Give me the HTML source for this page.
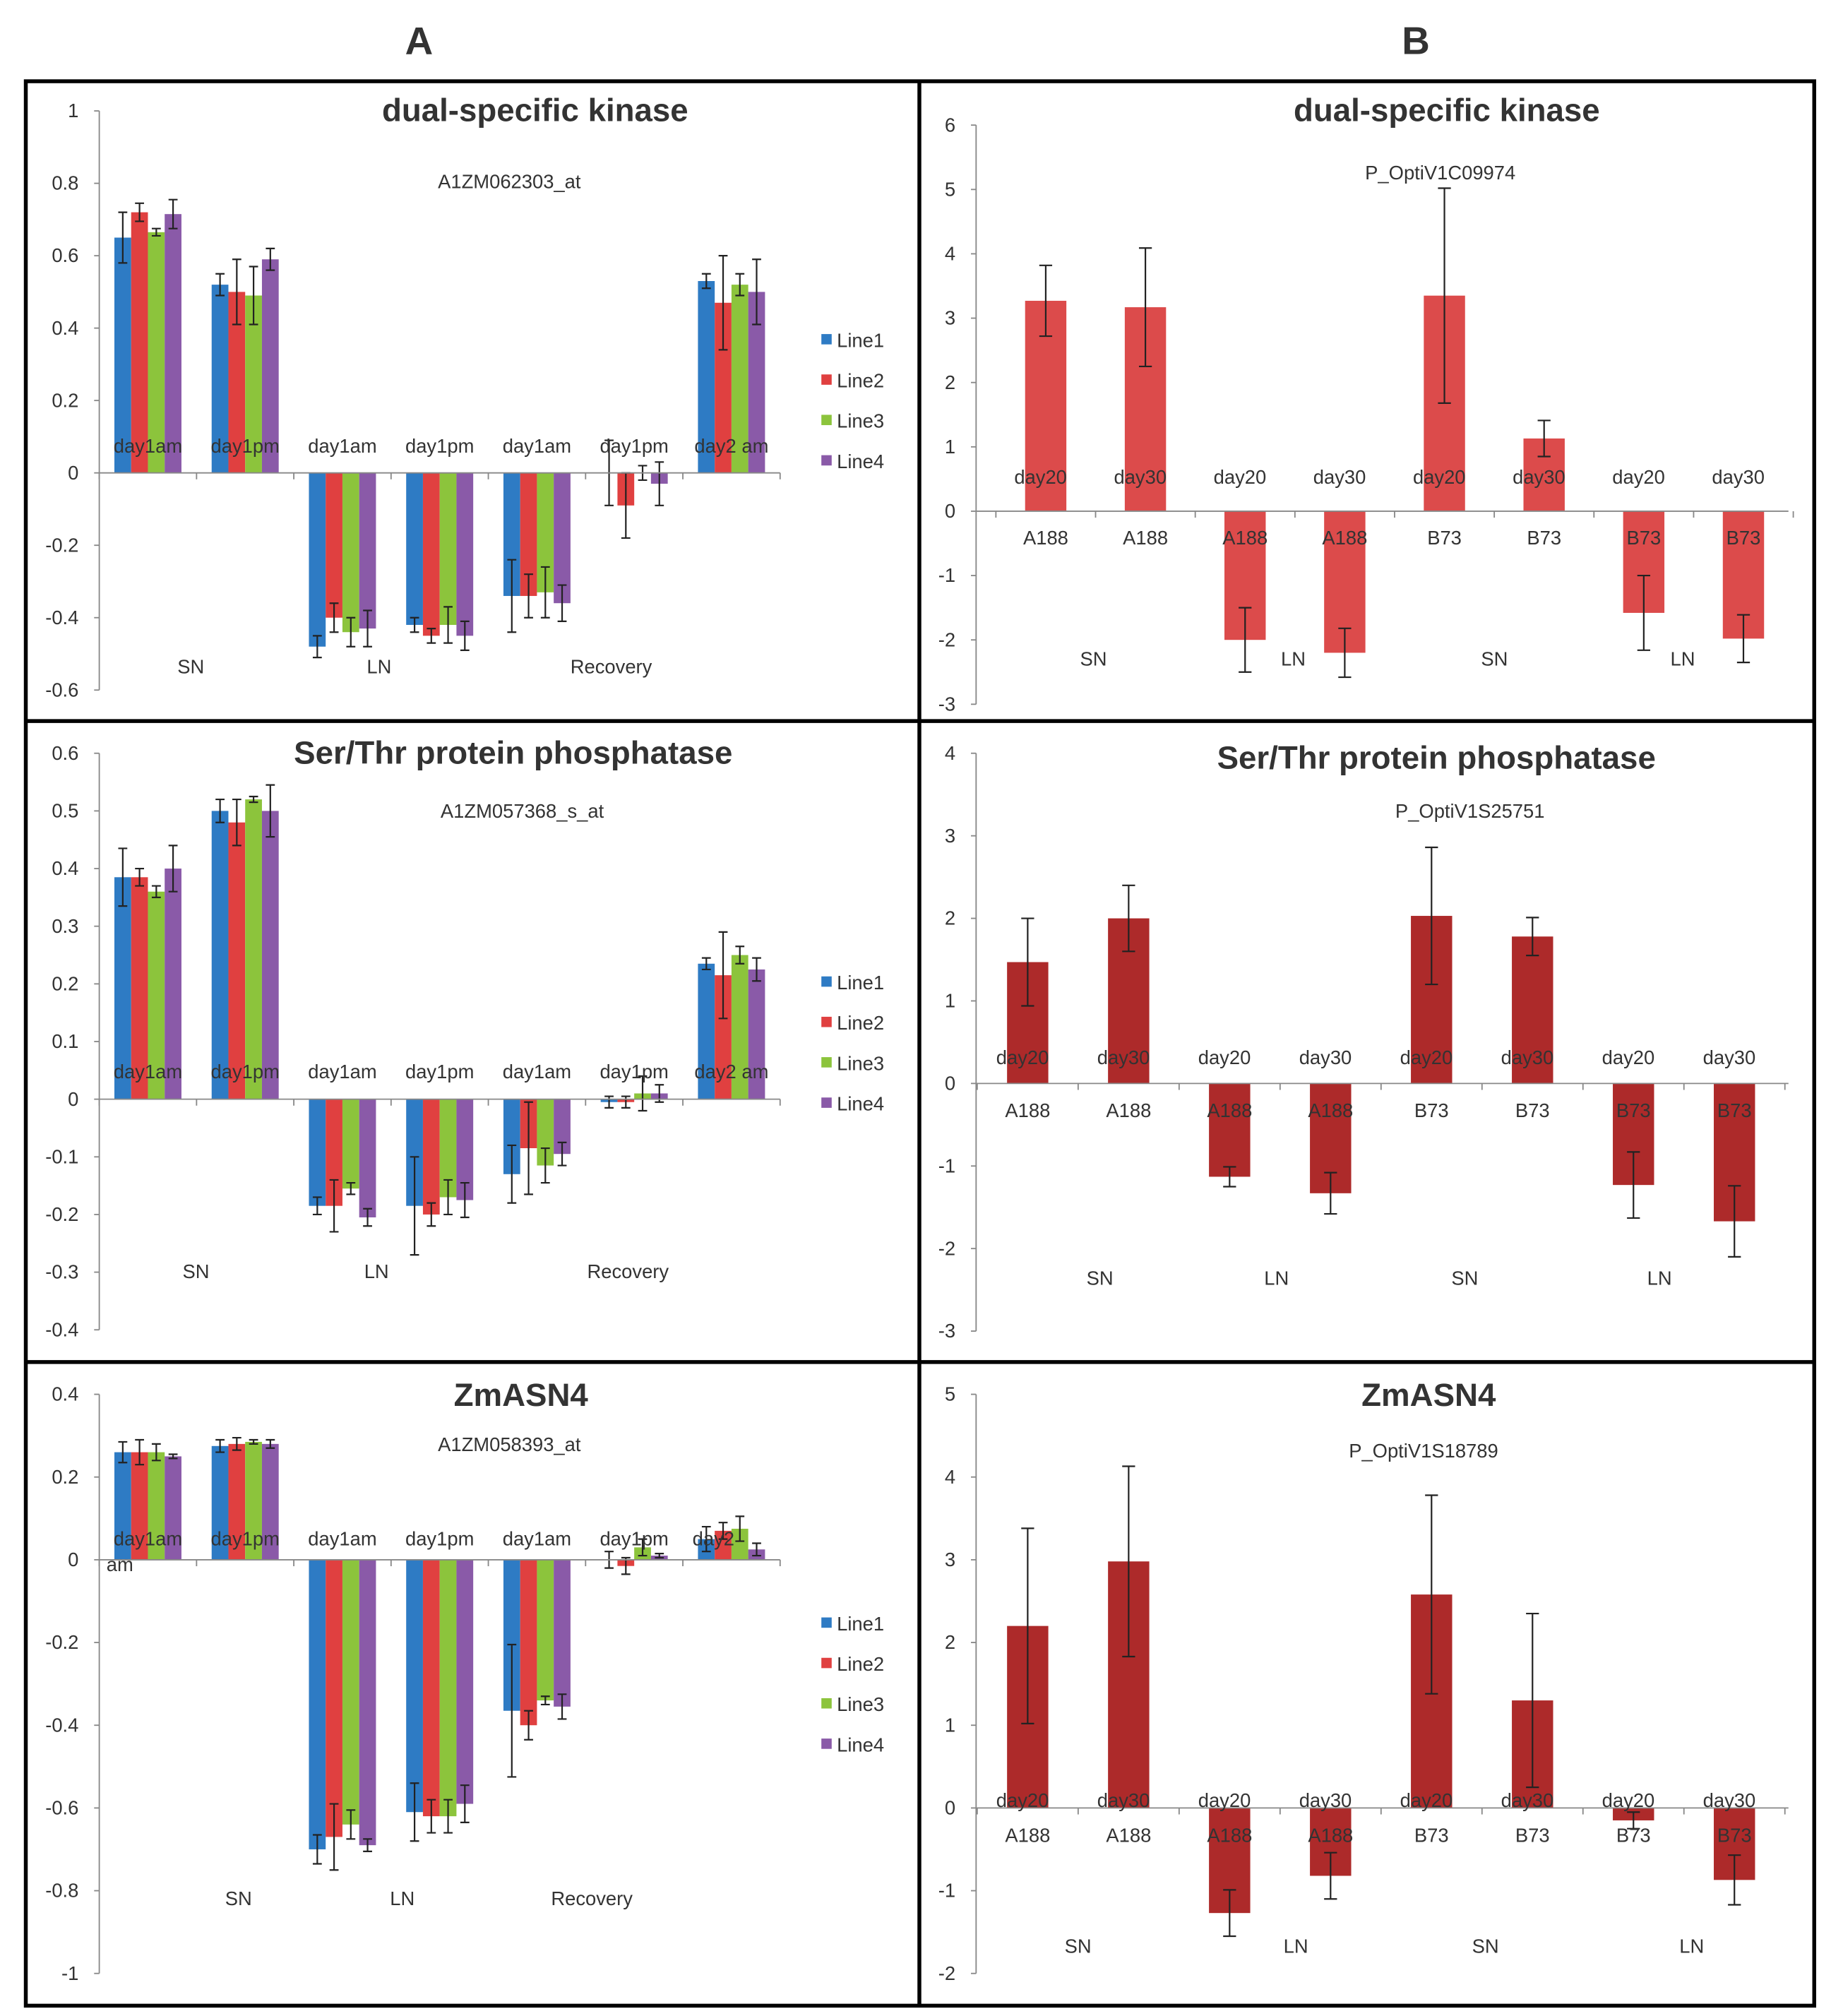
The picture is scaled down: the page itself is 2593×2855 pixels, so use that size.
<!DOCTYPE html>
<html><head><meta charset="utf-8"><style>
html,body{margin:0;padding:0;background:#fff}
svg{display:block}
text{font-family:"Liberation Sans",sans-serif;fill:#333}
</style></head><body>
<svg id="fig" width="2593" height="2855" viewBox="0 0 1420 1563" preserveAspectRatio="none" xmlns="http://www.w3.org/2000/svg">
<text x="325" y="42" font-size="30" font-weight="bold" text-anchor="middle" fill="#000">A</text>
<text x="1098" y="42" font-size="30" font-weight="bold" text-anchor="middle" fill="#000">B</text>
<rect x="20" y="63" width="1387" height="1492" fill="none" stroke="#000" stroke-width="3"/>
<line x1="713" y1="63" x2="713" y2="1555" stroke="#000" stroke-width="3"/>
<line x1="20" y1="559" x2="1407" y2="559" stroke="#000" stroke-width="3"/>
<line x1="20" y1="1056" x2="1407" y2="1056" stroke="#000" stroke-width="3"/>
</svg>
<script>
const NS="http://www.w3.org/2000/svg";
const svg=document.getElementById('fig');
function el(tag,attrs,parent){const e=document.createElementNS(NS,tag);for(const k in attrs)e.setAttribute(k,attrs[k]);(parent||svg).appendChild(e);return e;}
function txt(x,y,s,size,anchor,parent,extra){const t=el('text',Object.assign({x:x,y:y,'font-size':size,'text-anchor':anchor},extra||{}),parent);t.textContent=s;return t;}

const lineNames=["Line1","Line2","Line3","Line4"];
const lineColors=["#2e7bc4","#e04040","#8cc43c","#8a5aa8"];
const aCategories=["day1am","day1pm","day1am","day1pm","day1am","day1pm","day2 am"];

const a1Values=[[0.65,0.52,-0.48,-0.42,-0.34,0,0.53],[0.72,0.50,-0.40,-0.45,-0.34,-0.09,0.47],[0.665,0.49,-0.44,-0.42,-0.33,0,0.52],[0.715,0.59,-0.43,-0.45,-0.36,-0.03,0.50]];
const a1Errors=[[0.07,0.03,0.03,0.02,0.10,0.09,0.02],[0.025,0.09,0.04,0.02,0.06,0.09,0.13],[0.01,0.08,0.04,0.05,0.07,0.02,0.03],[0.04,0.03,0.05,0.04,0.05,0.06,0.09]];
const a1Ticks=[1,0.8,0.6,0.4,0.2,0,-0.2,-0.4,-0.6];
const a2Values=[[0.385,0.50,-0.185,-0.185,-0.13,-0.005,0.235],[0.385,0.48,-0.185,-0.20,-0.085,-0.005,0.215],[0.36,0.52,-0.155,-0.17,-0.115,0.01,0.25],[0.40,0.50,-0.205,-0.175,-0.095,0.01,0.225]];
const a2Errors=[[0.05,0.02,0.015,0.085,0.05,0.01,0.01],[0.015,0.04,0.045,0.02,0.08,0.01,0.075],[0.01,0.005,0.01,0.03,0.03,0.03,0.015],[0.04,0.045,0.015,0.03,0.02,0.015,0.02]];
const a2Ticks=[0.6,0.5,0.4,0.3,0.2,0.1,0,-0.1,-0.2,-0.3,-0.4];
const a3Values=[[0.26,0.275,-0.70,-0.61,-0.365,0,0.05],[0.26,0.28,-0.67,-0.62,-0.40,-0.015,0.07],[0.26,0.285,-0.64,-0.62,-0.34,0.03,0.075],[0.25,0.28,-0.69,-0.59,-0.355,0.01,0.025]];
const a3Errors=[[0.025,0.015,0.035,0.07,0.16,0.02,0.03],[0.03,0.015,0.08,0.04,0.035,0.02,0.02],[0.02,0.005,0.035,0.04,0.01,0.02,0.03],[0.005,0.01,0.015,0.045,0.03,0.005,0.015]];
const a3Ticks=[0.4,0.2,0,-0.2,-0.4,-0.6,-0.8,-1];

const bTopLabels=["day20","day30","day20","day30","day20","day30","day20","day30"];
const bNames=["A188","A188","A188","A188","B73","B73","B73","B73"];
const b1Values=[3.27,3.17,-2.0,-2.2,3.35,1.13,-1.58,-1.98];
const b1Errors=[0.55,0.92,0.5,0.38,1.67,0.28,0.58,0.37];
const b1Ticks=[6,5,4,3,2,1,0,-1,-2,-3];
const b2Values=[1.47,2.0,-1.13,-1.33,2.03,1.78,-1.23,-1.67];
const b2Errors=[0.53,0.4,0.12,0.25,0.83,0.23,0.4,0.43];
const b2Ticks=[4,3,2,1,0,-1,-2,-3];
const b3Values=[2.2,2.98,-1.27,-0.82,2.58,1.3,-0.15,-0.87];
const b3Errors=[1.18,1.15,0.28,0.28,1.2,1.05,0.1,0.3];
const b3Ticks=[5,4,3,2,1,0,-1,-2];

function yAxis(g,ticks,yScale,ax,top,bot){
  el('line',{x1:ax,y1:top,x2:ax,y2:bot,stroke:'#888','stroke-width':1},g);
  ticks.forEach(t=>{const y=yScale(t);
    el('line',{x1:ax-4,y1:y,x2:ax,y2:y,stroke:'#888'},g);
    const tt=txt(ax-16,y+5,String(t),15,'end',g);
    
    });
}

function panelA(cfg){
  const g=el('g',{});
  
  
  const ax=77,x0=77,x1=605,n=7,gw=(x1-x0)/n;
  const yScale=v=>cfg.y0+(cfg.yMax-v)*(cfg.y1-cfg.y0)/(cfg.yMax-cfg.yMin);
  const xCenter=i=>x0+gw*(i+0.5);
  yAxis(g,cfg.ticks,yScale,ax,cfg.y0,cfg.y1);
  const zy=yScale(0);
  for(let s=0;s<4;s++){for(let i=0;i<n;i++){
    const v=cfg.values[s][i],e=cfg.errors[s][i];
    const bx=xCenter(i)-26+s*13;
    const r=el('rect',{x:bx,y:Math.min(yScale(v),zy),width:13,height:Math.abs(yScale(v)-zy),fill:lineColors[s]},g);
    
    
    const cx=bx+6.5,ya=yScale(v+e),yb=yScale(v-e);
    el('path',{d:`M${cx},${ya}V${yb}M${cx-3.5},${ya}H${cx+3.5}M${cx-3.5},${yb}H${cx+3.5}`,stroke:'#222','stroke-width':1.2,fill:'none'},g);
  }}
  el('line',{x1:x0,y1:zy,x2:x1,y2:zy,stroke:'#888'},g);
  for(let i=0;i<=n;i++){const x=x0+gw*i;el('line',{x1:x,y1:zy,x2:x,y2:zy+5,stroke:'#888'},g);}
  aCategories.forEach((c,i)=>{
    let s=c,x=xCenter(i); if(cfg.short&&i===6){s='day2';x=xCenter(i)-14;}
    const t=txt(x,cfg.catY,s,15,'middle',g);
    
    });
  if(cfg.short){txt(93,cfg.catY+20,'am',15,'middle',g);}
  cfg.groups.forEach(([s,x])=>{const t=txt(x,cfg.groupY,s,15,'middle',g);
    
    });
  const ti=txt(cfg.titleX,cfg.titleY,cfg.title,25,'middle',g,{'font-weight':'bold',fill:'#000'});
  
  
  const st=txt(cfg.subX,cfg.subY,cfg.sub,15,'middle',g);
  
  
  lineNames.forEach((nm,s)=>{const y=cfg.legY+s*31.3;
    const lg=el('g',{},g);
    
    
    el('rect',{x:637,y:y-10,width:8,height:8,fill:lineColors[s]},lg);
    txt(649,y,nm,15,'start',lg);});
}

function panelB(cfg){
  const g=el('g',{});
  
  
  const ax=757,n=8;
  const yScale=v=>cfg.y0+(cfg.yMax-v)*(cfg.y1-cfg.y0)/(cfg.yMax-cfg.yMin);
  const xCenter=i=>cfg.c0+cfg.sp*i;
  yAxis(g,cfg.ticks,yScale,ax,cfg.y0,cfg.y1);
  const zy=yScale(0);
  cfg.values.forEach((v,i)=>{
    const e=cfg.errors[i],cx=xCenter(i);
    const r=el('rect',{x:cx-16,y:Math.min(yScale(v),zy),width:32,height:Math.abs(yScale(v)-zy),fill:cfg.color},g);
    
    
    const ya=yScale(v+e),yb=yScale(v-e);
    el('path',{d:`M${cx},${ya}V${yb}M${cx-5},${ya}H${cx+5}M${cx-5},${yb}H${cx+5}`,stroke:'#222','stroke-width':1.2,fill:'none'},g);
  });
  el('line',{x1:ax,y1:zy,x2:1387,y2:zy,stroke:'#888'},g);
  for(let i=0;i<=n;i++){const x=xCenter(i)-cfg.sp/2;el('line',{x1:x,y1:zy,x2:x,y2:zy+5,stroke:'#888'},g);}
  bTopLabels.forEach((c,i)=>{const t=txt(xCenter(i)-4,cfg.topY,c,15,'middle',g);
    
    });
  bNames.forEach((c,i)=>{const t=txt(xCenter(i),cfg.nameY,c,15,'middle',g);
    
    });
  cfg.groups.forEach(([s,x])=>{const t=txt(x,cfg.groupY,s,15,'middle',g);
    
    });
  const ti=txt(cfg.titleX,cfg.titleY,cfg.title,25,'middle',g,{'font-weight':'bold',fill:'#000'});
  
  
  const st=txt(cfg.subX,cfg.subY,cfg.sub,15,'middle',g);
  
  
}

panelA({name:'chart-a1',values:a1Values,errors:a1Errors,ticks:a1Ticks,yMax:1,yMin:-0.6,y0:86,y1:535,catY:351,groupY:522,
  groups:[["SN",148],["LN",294],["Recovery",474]],title:"dual-specific kinase",titleX:415,titleY:94,sub:"A1ZM062303_at",subX:395,subY:146,legY:269});
panelA({name:'chart-a2',values:a2Values,errors:a2Errors,ticks:a2Ticks,yMax:0.6,yMin:-0.4,y0:584,y1:1031,catY:836,groupY:991,
  groups:[["SN",152],["LN",292],["Recovery",487]],title:"Ser/Thr protein phosphatase",titleX:398,titleY:592,sub:"A1ZM057368_s_at",subX:405,subY:634,legY:767});
panelA({name:'chart-a3',values:a3Values,errors:a3Errors,ticks:a3Ticks,yMax:0.4,yMin:-1,y0:1081,y1:1530,catY:1198,groupY:1477,short:true,
  groups:[["SN",185],["LN",312],["Recovery",459]],title:"ZmASN4",titleX:404,titleY:1090,sub:"A1ZM058393_at",subX:395,subY:1125,legY:1264});

panelB({name:'chart-b1',values:b1Values,errors:b1Errors,ticks:b1Ticks,yMax:6,yMin:-3,y0:97,y1:546,c0:811,sp:77.3,color:'#dc4b4b',
  topY:375,nameY:422,groupY:516,groups:[["SN",848],["LN",1003],["SN",1159],["LN",1305]],
  title:"dual-specific kinase",titleX:1122,titleY:94,sub:"P_OptiV1C09974",subX:1117,subY:139});
panelB({name:'chart-b2',values:b2Values,errors:b2Errors,ticks:b2Ticks,yMax:4,yMin:-3,y0:584,y1:1032,c0:797,sp:78.3,color:'#ad2a2a',
  topY:825,nameY:866,groupY:996,groups:[["SN",853],["LN",990],["SN",1136],["LN",1287]],
  title:"Ser/Thr protein phosphatase",titleX:1114,titleY:596,sub:"P_OptiV1S25751",subX:1140,subY:634});
panelB({name:'chart-b3',values:b3Values,errors:b3Errors,ticks:b3Ticks,yMax:5,yMin:-2,y0:1081,y1:1530,c0:797,sp:78.3,color:'#ad2a2a',
  topY:1401,nameY:1428,groupY:1514,groups:[["SN",836],["LN",1005],["SN",1152],["LN",1312]],
  title:"ZmASN4",titleX:1108,titleY:1090,sub:"P_OptiV1S18789",subX:1104,subY:1130});
</script>
</body></html>
